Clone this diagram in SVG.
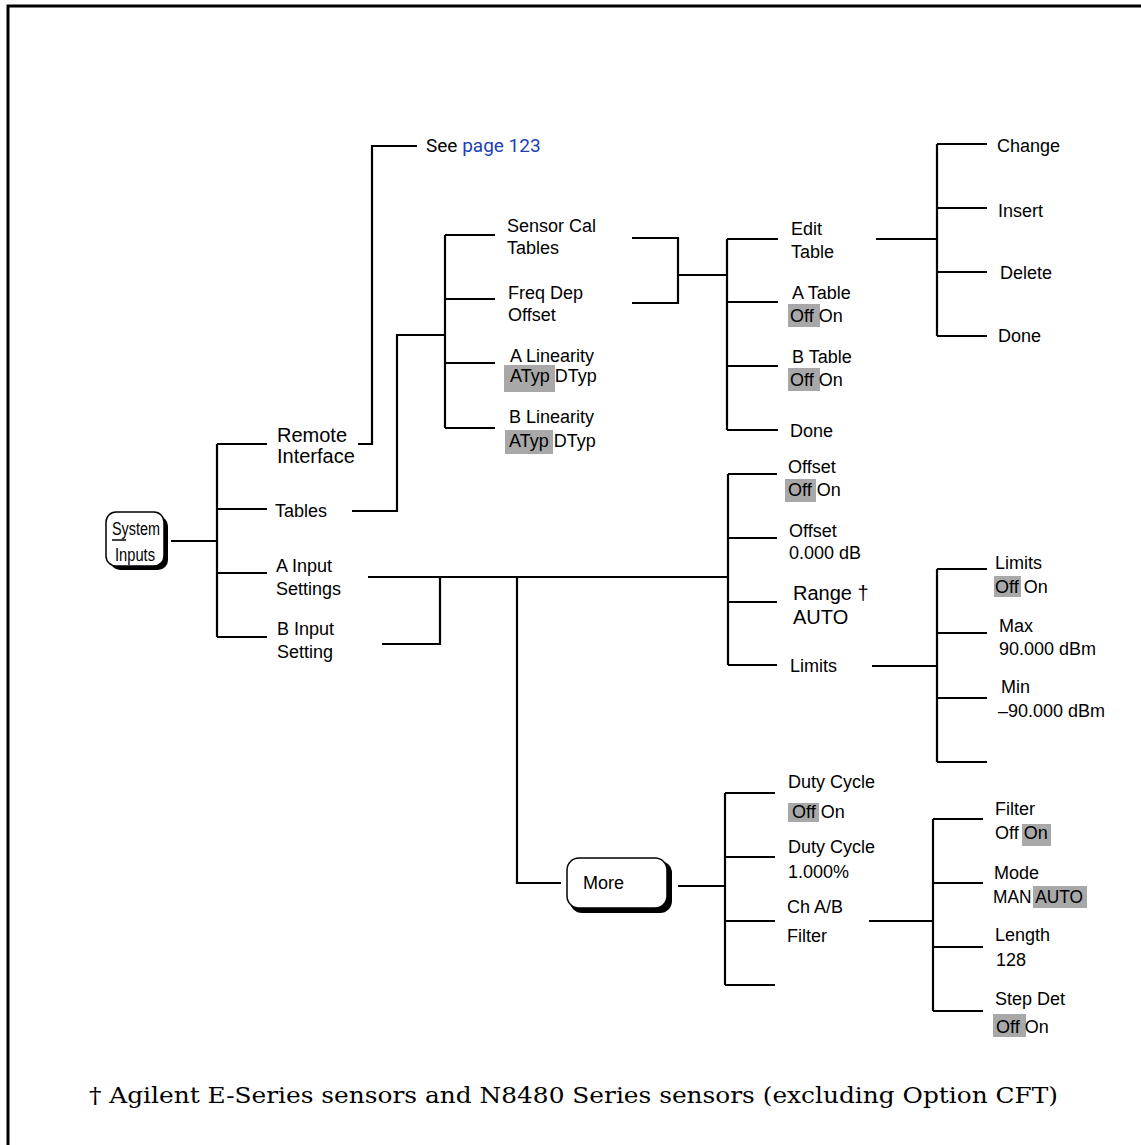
<svg xmlns="http://www.w3.org/2000/svg" width="1141" height="1145" viewBox="0 0 1141 1145">
<style>
.t{font-family:"Liberation Sans",Arial,sans-serif;font-size:18px;fill:#000}
.big{font-size:20px}
.c{fill:none;stroke:#000;stroke-width:2.2}
.hl{fill:#a8a8a8}
.blue{fill:#2040b8}
.key{fill:#fff;stroke:#000;stroke-width:1.5}
.sh{fill:#000}
</style>
<rect width="1141" height="1145" fill="#fff"/>
<path d="M8,1145 V6 H1141" fill="none" stroke="#000" stroke-width="3"/>
<g id="connectors" class="c">
<path d="M171,541 H217 M217,444 V637 M217,444 H267 M217,509 H267 M217,573 H267 M217,637 H267"/>
<path d="M358,444 H372 V146 H417"/>
<path d="M352,511 H397 V335 H445 M445,235 V428 M445,235 H495 M445,299 H495 M445,363 H495 M445,428 H495"/>
<path d="M632,238 H678 V303 H632 M678,275 H727"/>
<path d="M727,239 V430 M727,239 H778 M727,302 H778 M727,366 H778 M727,430 H778"/>
<path d="M876,239 H937 M937,144 V336 M937,144 H987 M937,208 H987 M937,272 H987 M937,336 H987"/>
<path d="M368,577 H728 M382,644 H440 V577 M517,577 V883 H561"/>
<path d="M728,474 V665 M728,474 H777 M728,538 H777 M728,602 H777 M728,665 H777"/>
<path d="M872,666 H937 M937,569 V762 M937,569 H987 M937,633 H987 M937,698 H987 M937,762 H987"/>
<path d="M678,886 H725 M725,793 V985 M725,793 H775 M725,857 H775 M725,921 H775 M725,985 H775"/>
<path d="M869,921 H933 M933,819 V1011 M933,819 H983 M933,883 H983 M933,947 H983 M933,1011 H983"/>
</g>
<g id="system-inputs">
<rect class="sh" x="110" y="516" width="58" height="54" rx="10"/>
<rect class="key" x="106" y="512" width="58" height="54" rx="10"/>
<text class="t" x="112" y="535" font-size="22" textLength="48" lengthAdjust="spacingAndGlyphs">System</text>
<line x1="112" y1="540" x2="126" y2="540" stroke="#000" stroke-width="1.5"/>
<text class="t" x="115" y="561" font-size="22" textLength="40" lengthAdjust="spacingAndGlyphs">Inputs</text>
</g>
<g id="remote-interface"><text class="t big" x="277" y="442">Remote</text><text class="t big" x="277" y="463">Interface</text></g>
<g id="see-page"><text x="426" y="152" style="font-family:Roboto,'Liberation Sans',sans-serif;font-size:19px">See <tspan class="blue">page 123</tspan></text></g>
<g id="tables"><text class="t" x="275" y="517">Tables</text></g>
<g id="a-input"><text class="t" x="276" y="572">A Input</text><text class="t" x="276" y="595">Settings</text></g>
<g id="b-input"><text class="t" x="277" y="635">B Input</text><text class="t" x="277" y="658">Setting</text></g>
<g id="sensor-cal"><text class="t" x="507" y="232">Sensor Cal</text><text class="t" x="507" y="254">Tables</text></g>
<g id="freq-dep"><text class="t" x="508" y="299">Freq Dep</text><text class="t" x="508" y="321">Offset</text></g>
<g id="a-linearity"><text class="t" x="510" y="362">A Linearity</text><rect class="hl" x="504" y="365" width="51" height="27"/><text class="t" x="510" y="382">ATyp DTyp</text></g>
<g id="b-linearity"><text class="t" x="509" y="423">B Linearity</text><rect class="hl" x="505" y="430" width="48" height="24"/><text class="t" x="509" y="447">ATyp DTyp</text></g>
<g id="edit-table"><text class="t" x="791" y="235">Edit</text><text class="t" x="791" y="258">Table</text></g>
<g id="a-table"><text class="t" x="792" y="299">A Table</text><rect class="hl" x="788" y="304" width="32" height="23"/><text class="t" x="790" y="322">Off On</text></g>
<g id="b-table"><text class="t" x="792" y="363">B Table</text><rect class="hl" x="788" y="368" width="32" height="23"/><text class="t" x="790" y="386">Off On</text></g>
<g id="done1"><text class="t" x="790" y="437">Done</text></g>
<g id="change"><text class="t" x="997" y="152">Change</text></g>
<g id="insert"><text class="t" x="998" y="217">Insert</text></g>
<g id="delete"><text class="t" x="1000" y="279">Delete</text></g>
<g id="done2"><text class="t" x="998" y="342">Done</text></g>
<g id="offset-onoff"><text class="t" x="788" y="473">Offset</text><rect class="hl" x="785" y="479" width="31" height="23"/><text class="t" x="788" y="496">Off On</text></g>
<g id="offset-value"><text class="t" x="789" y="537">Offset</text><text class="t" x="789" y="559">0.000 dB</text></g>
<g id="range"><text class="t big" x="793" y="600">Range †</text><text class="t big" x="793" y="624">AUTO</text></g>
<g id="limits"><text class="t" x="790" y="672">Limits</text></g>
<g id="limits-onoff"><text class="t" x="995" y="569">Limits</text><rect class="hl" x="994" y="576" width="27" height="21"/><text class="t" x="995" y="593">Off On</text></g>
<g id="max"><text class="t" x="999" y="632">Max</text><text class="t" x="999" y="655">90.000 dBm</text></g>
<g id="min"><text class="t" x="1001" y="693">Min</text><text class="t" x="998" y="717">–90.000 dBm</text></g>
<g id="more">
<rect class="sh" x="570" y="861" width="102" height="52" rx="12"/>
<rect class="key" x="567" y="858" width="100" height="50" rx="12"/>
<text class="t" x="583" y="889" font-size="24">More</text>
</g>
<g id="duty-onoff"><text class="t" x="788" y="788">Duty Cycle</text><rect class="hl" x="788" y="803" width="31" height="19"/><text class="t" x="792" y="818">Off On</text></g>
<g id="duty-value"><text class="t" x="788" y="853">Duty Cycle</text><text class="t" x="788" y="878">1.000%</text></g>
<g id="ch-filter"><text class="t" x="787" y="913">Ch A/B</text><text class="t" x="787" y="942">Filter</text></g>
<g id="filter"><text class="t" x="995" y="815">Filter</text><rect class="hl" x="1022" y="824" width="29" height="22"/><text class="t" x="995" y="839">Off On</text></g>
<g id="mode"><text class="t" x="994" y="879">Mode</text><rect class="hl" x="1033" y="886" width="54" height="22"/><text class="t" x="993" y="903" textLength="90" lengthAdjust="spacingAndGlyphs">MAN AUTO</text></g>
<g id="length"><text class="t" x="995" y="941">Length</text><text class="t" x="996" y="966">128</text></g>
<g id="step-det"><text class="t" x="995" y="1005">Step Det</text><rect class="hl" x="993" y="1014" width="33" height="23"/><text class="t" x="996" y="1033">Off On</text></g>
<g id="footnote"><text x="89" y="1103" textLength="969" lengthAdjust="spacingAndGlyphs" style="font-family:'DejaVu Serif','Liberation Serif',serif;font-size:23px">† Agilent E-Series sensors and N8480 Series sensors (excluding Option CFT)</text></g>
</svg>
